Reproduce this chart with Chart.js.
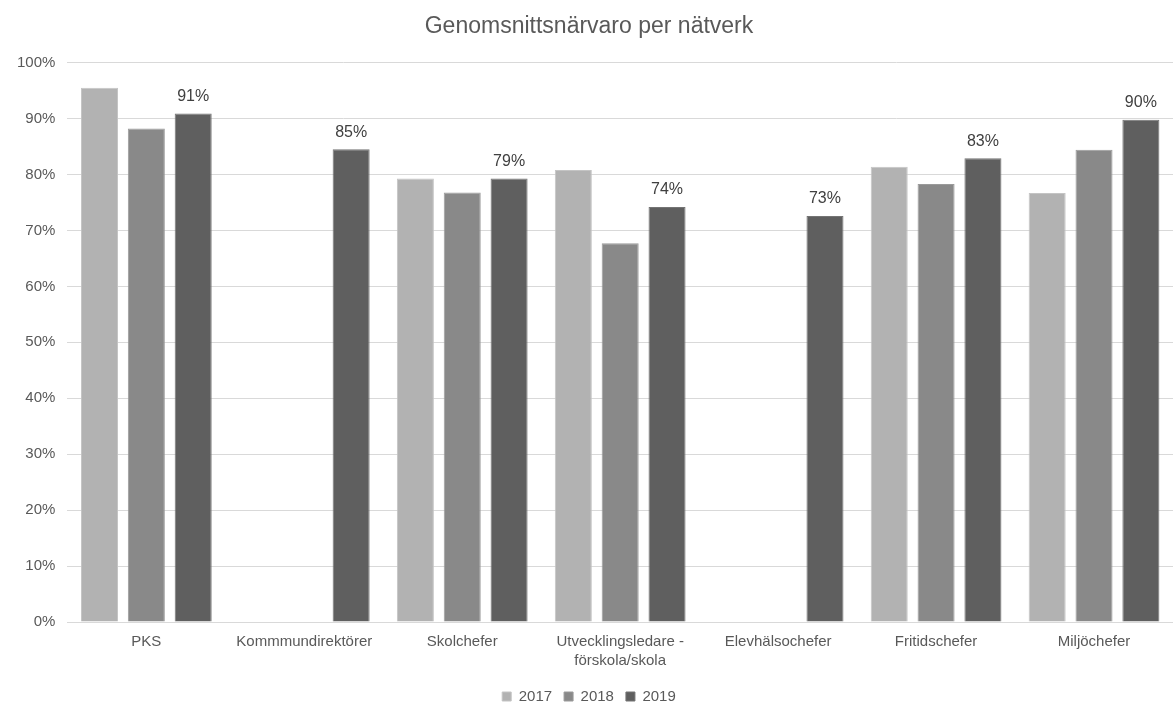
<!DOCTYPE html>
<html>
<head>
<meta charset="utf-8">
<script src="https://cdn.jsdelivr.net/npm/chart.js@4/dist/chart.umd.min.js"></script>
<style>
  html, body { margin: 0; padding: 0; background: #fff; }
</style>
</head>
<body>
<canvas id="chart" width="1173" height="704"></canvas>
<script>
var categories = ['PKS', 'Kommmundirektörer', 'Skolchefer', ['Utvecklingsledare -', 'förskola/skola'], 'Elevhälsochefer', 'Fritidschefer', 'Miljöchefer'];
var values2017 = [95.5, null, 79.3, 80.8, null, 81.4, 76.7];
var values2018 = [88.2, null, 76.8, 67.7, null, 78.3, 84.4];
var values2019 = [90.9, 84.5, 79.3, 74.2, 72.6, 82.9, 89.8];

Chart.defaults.font.family = '"Liberation Sans", Arial, sans-serif';
Chart.defaults.color = '#595959';

// draws the value labels above the 2019 bars
var barLabels = {
    id: 'barLabels',
    afterDatasetsDraw: function(chart) {
        var ctx = chart.ctx;
        var meta = chart.getDatasetMeta(2);
        ctx.save();
        ctx.font = '16px "Liberation Sans", Arial, sans-serif';
        ctx.fillStyle = '#404040';
        ctx.textAlign = 'center';
        ctx.textBaseline = 'bottom';
        meta.data.forEach(function(bar, i) {
            var v = chart.data.datasets[2].data[i];
            if (v == null) return;
            ctx.fillText(Math.round(v) + '%', bar.x, bar.y - 9);
        });
        ctx.restore();
    }
};

new Chart(document.getElementById('chart').getContext('2d'), {
    type: 'bar',
    data: {
        labels: categories,
        datasets: [
            { label: '2017', data: values2017, backgroundColor: '#b2b2b2', borderColor: '#c4c4c4', borderWidth: 1 },
            { label: '2018', data: values2018, backgroundColor: '#898989', borderColor: '#9a9a9a', borderWidth: 1 },
            { label: '2019', data: values2019, backgroundColor: '#5f5f5f', borderColor: '#747474', borderWidth: 1 }
        ]
    },
    options: {
        responsive: false,
        animation: false,
        maintainAspectRatio: false,
        categoryPercentage: 0.89,
        barPercentage: 0.79,
        layout: { padding: { left: 5, right: 0, top: 4, bottom: -10 } },
        plugins: {
            title: {
                display: true,
                text: 'Genomsnittsnärvaro per nätverk',
                font: { size: 23, weight: 'normal' },
                color: '#595959',
                padding: { top: 9, bottom: 22 }
            },
            legend: {
                position: 'bottom',
                labels: {
                    boxWidth: 9,
                    boxHeight: 9,
                    padding: 12,
                    font: { size: 15 },
                    color: '#595959'
                }
            },
            tooltip: { enabled: false }
        },
        scales: {
            x: {
                grid: { display: false, drawTicks: false },
                border: { color: '#d9d9d9' },
                ticks: { font: { size: 15, lineHeight: 1.3 }, color: '#595959', maxRotation: 0, padding: 10 },
                afterFit: function(scale) { scale.height -= 4; }
            },
            y: {
                min: 0,
                max: 100,
                ticks: {
                    stepSize: 10,
                    font: { size: 15 },
                    color: '#595959',
                    padding: 12,
                    callback: function(v) { return v + '%'; }
                },
                grid: { color: '#d9d9d9', drawTicks: false },
                border: { display: false }
            }
        }
    },
    plugins: [barLabels]
});
</script>
</body>
</html>
